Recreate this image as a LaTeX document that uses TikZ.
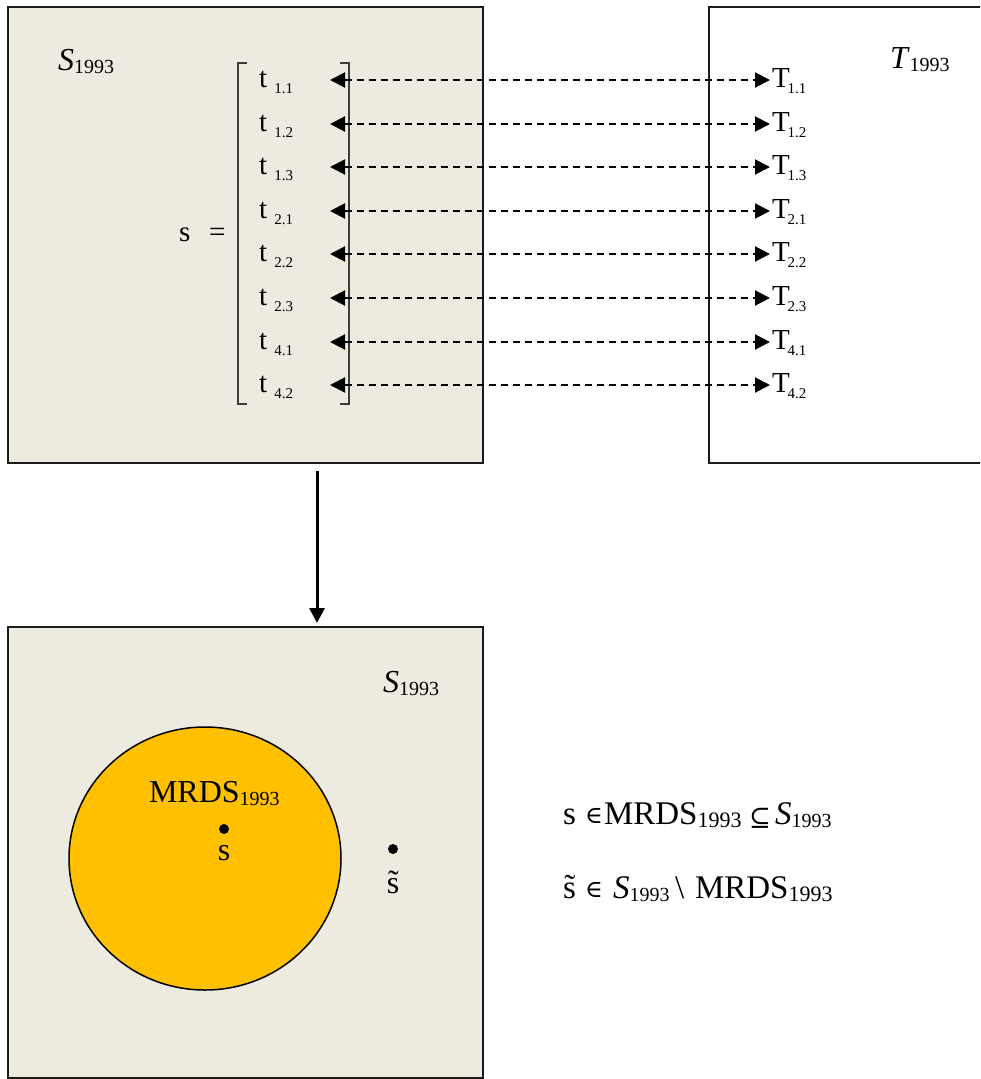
\documentclass[tikz,border=0pt]{standalone}
\usepackage{fontspec}
\setmainfont{Liberation Serif}
\newfontfamily\symfnt{DejaVu Serif}
\usetikzlibrary{arrows.meta,shapes.geometric}
\definecolor{boxbeige}{RGB}{237,234,224}
\definecolor{circorange}{RGB}{255,192,0}
\definecolor{edgegray}{RGB}{26,26,26}
\newcommand\lsub[1]{\raisebox{-3pt}{\fontsize{20}{20}\selectfont #1}}
\newcommand\msub[1]{\raisebox{-3pt}{\fontsize{22}{22}\selectfont #1}}
\newcommand\tsub[1]{\raisebox{-6.5pt}{\fontsize{15}{15}\selectfont #1}}
\begin{document}
\begin{tikzpicture}[x=1pt,y=-1pt,
  every node/.style={inner sep=0pt,outer sep=0pt},
  bigtext/.style={font=\fontsize{32}{32}\selectfont,anchor=base west},
  reltext/.style={font=\fontsize{33}{33}\selectfont,anchor=base west},
  intext/.style={font=\symfnt\fontsize{24}{24}\selectfont,anchor=base west},
  subsettext/.style={font=\symfnt\fontsize{26}{26}\selectfont,anchor=base west},
  rowtext/.style={font=\fontsize{29}{29}\selectfont,anchor=base west},
  panel/.style={draw=edgegray,line width=2pt},
  brack/.style={draw=edgegray!85,line width=1.5pt},
  link/.style={line width=2pt,dash pattern=on 7pt off 5pt,{Triangle[length=15pt,width=15pt]}-{Triangle[length=15pt,width=15pt]}},
  down/.style={line width=3pt,-{Triangle[length=15pt,width=15pt]}},
  dot/.style={circle,fill=black,minimum size=10pt}]
\useasboundingbox (0,0) rectangle (980,1079);
\clip (0,0) rectangle (980,1079);
% panels
\path[panel,fill=boxbeige] (8,7) rectangle (483,463);
\path[panel,fill=white] (709,7) rectangle (1000,463);
\path[panel,fill=boxbeige] (8,627) rectangle (483,1077.5);
% labels of panels
\node[bigtext] (S1) at (58,70) {\textit{S}\lsub{1993}};
\node[bigtext] (T1) at (890,68) {\textit{T}\lsub{1993}};
\node[bigtext] (S2) at (383,692) {\textit{S}\lsub{1993}};
% s = [ ... ]
\node[rowtext] (seq) at (179,241) {s};
\node[rowtext] (eq) at (209,241) {=};
\draw[brack] (247,63) -- (238,63) -- (238,404) -- (247,404);
\draw[brack] (340,63) -- (349,63) -- (349,404) -- (340,404);
\foreach \i/\lab/\y in {1/1.1/80,2/1.2/124,3/1.3/167,4/2.1/211,5/2.2/254,6/2.3/298,7/4.1/342,8/4.2/385}{
  \node[rowtext] (t\i) at (259,\y+7) {t\ \tsub{\lab}};
  \node[rowtext] (T\i) at (772,\y+7) {T\kern-2pt\tsub{\lab}};
  \coordinate (l\i) at (330,\y);
  \coordinate (r\i) at (770,\y);
  \draw[link] (l\i) -- (r\i);
}
% down arrow
\coordinate (dA) at (317,471);
\coordinate (dB) at (317,623);
\draw[down] (dA) -- (dB);
% circle
\node[draw=black,line width=1.5pt,fill=circorange,ellipse,minimum width=272pt,minimum height=263pt] (mrds) at (205,858.5) {};
\node[bigtext] (mrdslab) at (149,802) {MRDS\lsub{1993}};
\node[dot] (sdot) at (224,829) {};
\node[font=\fontsize{32}{32}\selectfont,anchor=base] (slab) at (224,860) {s};
\node[dot] (stdot) at (393,849) {};
\node[font=\fontsize{32}{32}\selectfont,anchor=base] (stlab) at (393,893) {\~s};
% relations, line 1
\node[reltext] (r1s) at (563,824) {s};
\node[intext] (r1in) at (585,823) {∈};
\node[reltext] (r1m) at (604,824) {MRDS\msub{1993}};
\node[subsettext] (r1sub) at (749,826) {⊆};
\node[reltext] (r1S) at (775,824) {\textit{S}\lsub{1993}};
% relations, line 2
\node[reltext] (r2s) at (563,898) {\~s};
\node[intext] (r2in) at (585,897) {∈};
\node[reltext] (r2S) at (613,898) {\textit{S}\lsub{1993}};
\node[reltext] (r2bs) at (675,898) {\textbackslash};
\node[reltext] (r2m) at (695,898) {MRDS\msub{1993}};
\end{tikzpicture}
\end{document}
